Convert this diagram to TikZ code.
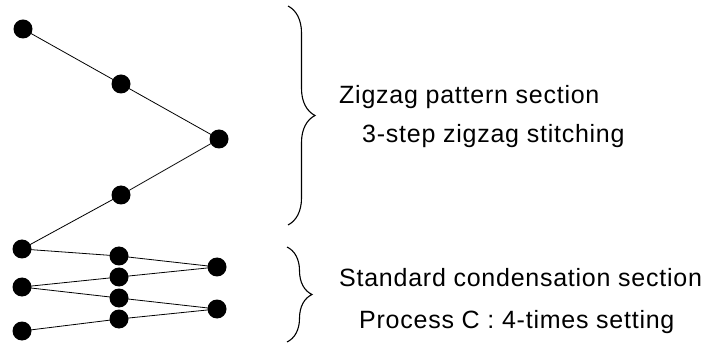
\documentclass[tikz,border=0pt]{standalone}
\usepackage{fontspec}
\setmainfont{Liberation Sans}
\usetikzlibrary{decorations.pathreplacing}

\begin{document}
\begin{tikzpicture}[x=1pt, y=1pt,
    stitch/.style={circle, fill=black, inner sep=0pt, minimum size=19pt},
    thread/.style={line width=0.8pt},
    sectionbrace/.style={decorate, line width=1.1pt, decoration={brace, amplitude=#1}},
    label/.style={anchor=base west, inner sep=0pt, font=\fontsize{25}{30}\selectfont\addfontfeature{LetterSpace=3}}]
    \useasboundingbox (0,0) rectangle (708,345);
    % zigzag pattern section
    \node[stitch] (z1) at (23,316) {};
    \node[stitch] (z2) at (121,261) {};
    \node[stitch] (z3) at (219,206) {};
    \node[stitch] (z4) at (121,150) {};
    \node[stitch] (z5) at (22,96) {};
    % standard condensation section
    \node[stitch] (c1) at (119,89) {};
    \node[stitch] (c2) at (217,78) {};
    \node[stitch] (c3) at (119,68) {};
    \node[stitch] (c4) at (22,58) {};
    \node[stitch] (c5) at (119,47) {};
    \node[stitch] (c6) at (217,36) {};
    \node[stitch] (c7) at (119,26) {};
    \node[stitch] (c8) at (22,14) {};
    \draw[thread] (z1.center) -- (z2.center) -- (z3.center) -- (z4.center) -- (z5.center);
    \draw[thread] (z5.center) -- (c1.center) -- (c2.center) -- (c3.center) -- (c4.center)
        -- (c5.center) -- (c6.center) -- (c7.center) -- (c8.center);
    % braces
    \coordinate (zigtop) at (288,339);
    \coordinate (zigbot) at (288,120);
    \coordinate (stdtop) at (287,98);
    \coordinate (stdbot) at (287,3);
    \draw[sectionbrace=27pt] (zigtop) -- (zigbot);
    \draw[sectionbrace=25pt] (stdtop) -- (stdbot);
    % labels
    \node[label] (zigname) at (339,241) {Zigzag pattern section};
    \node[label] (zigstep) at (362,202) {3-step zigzag stitching};
    \node[label] (stdname) at (339,59) {Standard condensation section};
    \node[label] (stdproc) at (359,17) {Process C : 4-times setting};
\end{tikzpicture}
\end{document}
